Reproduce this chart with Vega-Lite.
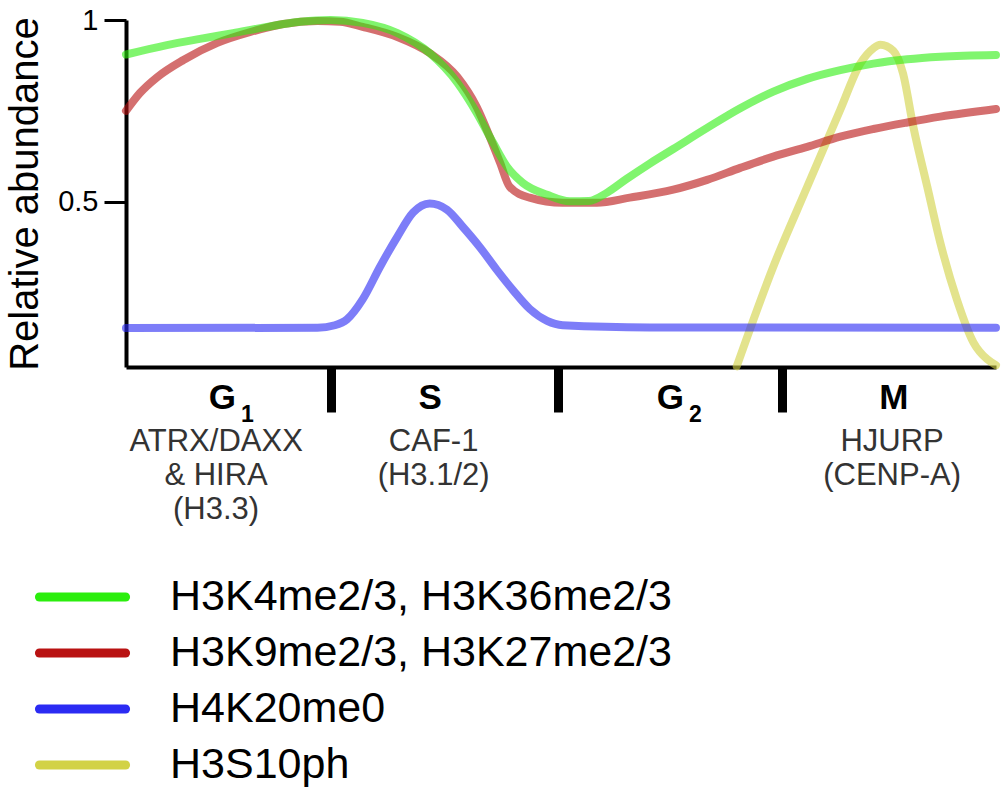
{
  "$schema": "https://vega.github.io/schema/vega-lite/v6.json",
  "width": 870,
  "height": 347,
  "autosize": "none",
  "padding": {"left": 126, "top": 20, "right": 10, "bottom": 421},
  "config": {"view": {"stroke": null}, "font": "Liberation Sans"},
  "data": {
    "values": [
      {"series": "H3S10ph", "t": 70.2, "v": 0.047},
      {"series": "H3S10ph", "t": 74.4, "v": 0.321},
      {"series": "H3S10ph", "t": 78.3, "v": 0.541},
      {"series": "H3S10ph", "t": 82.1, "v": 0.753},
      {"series": "H3S10ph", "t": 84.4, "v": 0.88},
      {"series": "H3S10ph", "t": 85.9, "v": 0.922},
      {"series": "H3S10ph", "t": 86.7, "v": 0.932},
      {"series": "H3S10ph", "t": 88.2, "v": 0.915},
      {"series": "H3S10ph", "t": 89.3, "v": 0.854},
      {"series": "H3S10ph", "t": 90.5, "v": 0.706},
      {"series": "H3S10ph", "t": 92.1, "v": 0.541},
      {"series": "H3S10ph", "t": 93.6, "v": 0.387},
      {"series": "H3S10ph", "t": 95.5, "v": 0.231},
      {"series": "H3S10ph", "t": 97.4, "v": 0.113},
      {"series": "H3S10ph", "t": 99.0, "v": 0.066},
      {"series": "H3S10ph", "t": 100, "v": 0.05},

      {"series": "H3K9me2/3, H3K27me2/3", "t": 0, "v": 0.75},
      {"series": "H3K9me2/3, H3K27me2/3", "t": 1.6, "v": 0.799},
      {"series": "H3K9me2/3, H3K27me2/3", "t": 3.6, "v": 0.843},
      {"series": "H3K9me2/3, H3K27me2/3", "t": 6.6, "v": 0.89},
      {"series": "H3K9me2/3, H3K27me2/3", "t": 10.5, "v": 0.937},
      {"series": "H3K9me2/3, H3K27me2/3", "t": 14.3, "v": 0.967},
      {"series": "H3K9me2/3, H3K27me2/3", "t": 18.1, "v": 0.989},
      {"series": "H3K9me2/3, H3K27me2/3", "t": 22.0, "v": 0.997},
      {"series": "H3K9me2/3, H3K27me2/3", "t": 24.6, "v": 0.995},
      {"series": "H3K9me2/3, H3K27me2/3", "t": 27.2, "v": 0.981},
      {"series": "H3K9me2/3, H3K27me2/3", "t": 31.2, "v": 0.953},
      {"series": "H3K9me2/3, H3K27me2/3", "t": 34.9, "v": 0.909},
      {"series": "H3K9me2/3, H3K27me2/3", "t": 38.1, "v": 0.843},
      {"series": "H3K9me2/3, H3K27me2/3", "t": 40.3, "v": 0.761},
      {"series": "H3K9me2/3, H3K27me2/3", "t": 41.8, "v": 0.679},
      {"series": "H3K9me2/3, H3K27me2/3", "t": 43.0, "v": 0.607},
      {"series": "H3K9me2/3, H3K27me2/3", "t": 44.1, "v": 0.541},
      {"series": "H3K9me2/3, H3K27me2/3", "t": 46.4, "v": 0.511},
      {"series": "H3K9me2/3, H3K27me2/3", "t": 50.2, "v": 0.497},
      {"series": "H3K9me2/3, H3K27me2/3", "t": 54.1, "v": 0.497},
      {"series": "H3K9me2/3, H3K27me2/3", "t": 57.9, "v": 0.511},
      {"series": "H3K9me2/3, H3K27me2/3", "t": 62.9, "v": 0.533},
      {"series": "H3K9me2/3, H3K27me2/3", "t": 66.8, "v": 0.56},
      {"series": "H3K9me2/3, H3K27me2/3", "t": 70.6, "v": 0.593},
      {"series": "H3K9me2/3, H3K27me2/3", "t": 74.4, "v": 0.624},
      {"series": "H3K9me2/3, H3K27me2/3", "t": 78.3, "v": 0.651},
      {"series": "H3K9me2/3, H3K27me2/3", "t": 82.1, "v": 0.679},
      {"series": "H3K9me2/3, H3K27me2/3", "t": 85.9, "v": 0.7},
      {"series": "H3K9me2/3, H3K27me2/3", "t": 89.8, "v": 0.718},
      {"series": "H3K9me2/3, H3K27me2/3", "t": 93.6, "v": 0.734},
      {"series": "H3K9me2/3, H3K27me2/3", "t": 100, "v": 0.755},

      {"series": "H3K4me2/3, H3K36me2/3", "t": 0, "v": 0.905},
      {"series": "H3K4me2/3, H3K36me2/3", "t": 4.7, "v": 0.931},
      {"series": "H3K4me2/3, H3K36me2/3", "t": 8.5, "v": 0.948},
      {"series": "H3K4me2/3, H3K36me2/3", "t": 12.3, "v": 0.964},
      {"series": "H3K4me2/3, H3K36me2/3", "t": 16.2, "v": 0.981},
      {"series": "H3K4me2/3, H3K36me2/3", "t": 20.0, "v": 0.995},
      {"series": "H3K4me2/3, H3K36me2/3", "t": 23.5, "v": 1.0},
      {"series": "H3K4me2/3, H3K36me2/3", "t": 27.2, "v": 0.992},
      {"series": "H3K4me2/3, H3K36me2/3", "t": 31.2, "v": 0.964},
      {"series": "H3K4me2/3, H3K36me2/3", "t": 34.9, "v": 0.909},
      {"series": "H3K4me2/3, H3K36me2/3", "t": 38.1, "v": 0.827},
      {"series": "H3K4me2/3, H3K36me2/3", "t": 40.3, "v": 0.745},
      {"series": "H3K4me2/3, H3K36me2/3", "t": 42.2, "v": 0.662},
      {"series": "H3K4me2/3, H3K36me2/3", "t": 43.8, "v": 0.596},
      {"series": "H3K4me2/3, H3K36me2/3", "t": 45.6, "v": 0.552},
      {"series": "H3K4me2/3, H3K36me2/3", "t": 48.4, "v": 0.519},
      {"series": "H3K4me2/3, H3K36me2/3", "t": 51.0, "v": 0.501},
      {"series": "H3K4me2/3, H3K36me2/3", "t": 53.2, "v": 0.502},
      {"series": "H3K4me2/3, H3K36me2/3", "t": 55.3, "v": 0.525},
      {"series": "H3K4me2/3, H3K36me2/3", "t": 57.5, "v": 0.562},
      {"series": "H3K4me2/3, H3K36me2/3", "t": 60.2, "v": 0.605},
      {"series": "H3K4me2/3, H3K36me2/3", "t": 62.9, "v": 0.645},
      {"series": "H3K4me2/3, H3K36me2/3", "t": 66.8, "v": 0.703},
      {"series": "H3K4me2/3, H3K36me2/3", "t": 70.6, "v": 0.757},
      {"series": "H3K4me2/3, H3K36me2/3", "t": 74.4, "v": 0.803},
      {"series": "H3K4me2/3, H3K36me2/3", "t": 78.3, "v": 0.838},
      {"series": "H3K4me2/3, H3K36me2/3", "t": 82.1, "v": 0.862},
      {"series": "H3K4me2/3, H3K36me2/3", "t": 85.9, "v": 0.88},
      {"series": "H3K4me2/3, H3K36me2/3", "t": 89.8, "v": 0.892},
      {"series": "H3K4me2/3, H3K36me2/3", "t": 93.6, "v": 0.899},
      {"series": "H3K4me2/3, H3K36me2/3", "t": 100, "v": 0.904},

      {"series": "H4K20me0", "t": 0, "v": 0.152},
      {"series": "H4K20me0", "t": 22.0, "v": 0.153},
      {"series": "H4K20me0", "t": 24.0, "v": 0.16},
      {"series": "H4K20me0", "t": 25.4, "v": 0.176},
      {"series": "H4K20me0", "t": 27.2, "v": 0.231},
      {"series": "H4K20me0", "t": 29.2, "v": 0.321},
      {"series": "H4K20me0", "t": 31.2, "v": 0.404},
      {"series": "H4K20me0", "t": 33.0, "v": 0.47},
      {"series": "H4K20me0", "t": 34.9, "v": 0.495},
      {"series": "H4K20me0", "t": 36.9, "v": 0.478},
      {"series": "H4K20me0", "t": 38.7, "v": 0.431},
      {"series": "H4K20me0", "t": 40.7, "v": 0.374},
      {"series": "H4K20me0", "t": 42.6, "v": 0.313},
      {"series": "H4K20me0", "t": 44.5, "v": 0.256},
      {"series": "H4K20me0", "t": 46.4, "v": 0.205},
      {"series": "H4K20me0", "t": 48.4, "v": 0.172},
      {"series": "H4K20me0", "t": 50.2, "v": 0.16},
      {"series": "H4K20me0", "t": 60.2, "v": 0.154},
      {"series": "H4K20me0", "t": 100, "v": 0.153}
    ]
  },
  "layer": [
    {
      "mark": {"type": "line", "interpolate": "monotone", "strokeWidth": 8, "strokeCap": "round"},
      "encoding": {
        "x": {
          "field": "t", "type": "quantitative",
          "scale": {"domain": [0, 100], "nice": false},
          "axis": {
            "orient": "bottom", "title": null, "grid": false, "labels": false,
            "values": [23.56, 49.66, 75.4],
            "domainColor": "black", "domainWidth": 4,
            "tickColor": "black", "tickWidth": 9, "tickSize": 45
          }
        },
        "y": {
          "field": "v", "type": "quantitative",
          "scale": {"domain": [0.045, 1], "nice": false, "zero": false},
          "axis": {
            "title": "Relative abundance", "titleFontSize": 40, "titleFontWeight": "normal",
            "titleColor": "black", "titlePadding": 12,
            "grid": false, "values": [0.5, 1], "format": "~g",
            "labelFontSize": 29, "labelColor": "black", "labelPadding": 6,
            "domainColor": "black", "domainWidth": 4,
            "tickColor": "black", "tickWidth": 3, "tickSize": 22
          }
        },
        "strokeOpacity": {
          "field": "series", "type": "nominal", "legend": null,
          "scale": {
            "domain": ["H3K4me2/3, H3K36me2/3", "H3K9me2/3, H3K27me2/3", "H4K20me0", "H3S10ph"],
            "range": [0.6, 0.62, 0.6, 0.85]
          }
        },
        "stroke": {
          "field": "series", "type": "nominal",
          "scale": {
            "domain": ["H3K4me2/3, H3K36me2/3", "H3K9me2/3, H3K27me2/3", "H4K20me0", "H3S10ph"],
            "range": ["#2bee0d", "#b91212", "#2b2bf3", "#d2d246"]
          },
          "legend": {
            "orient": "none", "legendX": -77.5, "legendY": 543, "padding": 0,
            "title": null, "symbolType": "M-1.46,0H1.46", "symbolSize": 3481,
            "symbolStrokeWidth": 9, "symbolOpacity": 1,
            "labelFontSize": 43, "labelColor": "black", "labelOffset": 53.5,
            "labelLimit": 0, "rowPadding": 0,
            "encode": {
              "symbols": {
                "update": {
                  "strokeCap": {"value": "round"},
                  "strokeOpacity": {"value": 1}
                }
              }
            }
          }
        }
      }
    },
    {
      "mark": {"type": "line", "opacity": 0},
      "encoding": {
        "x": {
          "field": "t", "type": "quantitative",
          "scale": {"domain": [0, 100], "nice": false},
          "axis": {
            "orient": "bottom", "title": null, "grid": false, "domain": false, "ticks": false,
            "values": [11.03, 34.9, 62.5, 88.2],
            "labelExpr": "datum.value < 20 ? 'G' : datum.value < 50 ? 'S' : datum.value < 75 ? 'G' : 'M'",
            "labelFontSize": 35, "labelFontWeight": "bold", "labelColor": "black",
            "labelBaseline": "top", "labelPadding": 13
          }
        },
        "y": {
          "field": "v", "type": "quantitative",
          "scale": {"domain": [0.045, 1], "nice": false, "zero": false},
          "axis": {
            "title": "Relative abundance", "titleFontSize": 40, "titleFontWeight": "normal",
            "titleColor": "black", "titlePadding": 12,
            "grid": false, "values": [0.5, 1], "format": "~g",
            "labelFontSize": 29, "labelColor": "black", "labelPadding": 6,
            "domainColor": "black", "domainWidth": 4,
            "tickColor": "black", "tickWidth": 3, "tickSize": 22
          }
        },
        "detail": {"field": "series", "type": "nominal"}
      }
    },
    {
      "mark": {"type": "line", "opacity": 0},
      "encoding": {
        "x": {
          "field": "t", "type": "quantitative",
          "scale": {"domain": [0, 100], "nice": false},
          "axis": {
            "orient": "bottom", "title": null, "grid": false, "domain": false, "ticks": false,
            "values": [13.9, 65.4],
            "labelExpr": "datum.value < 40 ? '1' : '2'",
            "labelFontSize": 23, "labelFontWeight": "bold", "labelColor": "black",
            "labelBaseline": "top", "labelPadding": 36
          }
        },
        "y": {
          "field": "v", "type": "quantitative",
          "scale": {"domain": [0.045, 1], "nice": false, "zero": false},
          "axis": {
            "title": "Relative abundance", "titleFontSize": 40, "titleFontWeight": "normal",
            "titleColor": "black", "titlePadding": 12,
            "grid": false, "values": [0.5, 1], "format": "~g",
            "labelFontSize": 29, "labelColor": "black", "labelPadding": 6,
            "domainColor": "black", "domainWidth": 4,
            "tickColor": "black", "tickWidth": 3, "tickSize": 22
          }
        },
        "detail": {"field": "series", "type": "nominal"}
      }
    },
    {
      "mark": {"type": "line", "opacity": 0},
      "encoding": {
        "x": {
          "field": "t", "type": "quantitative",
          "scale": {"domain": [0, 100], "nice": false},
          "axis": {
            "orient": "bottom", "title": null, "grid": false, "domain": false, "ticks": false,
            "values": [10.3, 35.3, 88.0],
            "labelExpr": "datum.value < 20 ? ['ATRX/DAXX', '& HIRA', '(H3.3)'] : datum.value < 50 ? ['CAF-1', '(H3.1/2)'] : ['HJURP', '(CENP-A)']",
            "labelFontSize": 31, "labelColor": "#333333", "labelLineHeight": 34,
            "labelBaseline": "top", "labelPadding": 59
          }
        },
        "y": {
          "field": "v", "type": "quantitative",
          "scale": {"domain": [0.045, 1], "nice": false, "zero": false},
          "axis": {
            "title": "Relative abundance", "titleFontSize": 40, "titleFontWeight": "normal",
            "titleColor": "black", "titlePadding": 12,
            "grid": false, "values": [0.5, 1], "format": "~g",
            "labelFontSize": 29, "labelColor": "black", "labelPadding": 6,
            "domainColor": "black", "domainWidth": 4,
            "tickColor": "black", "tickWidth": 3, "tickSize": 22
          }
        },
        "detail": {"field": "series", "type": "nominal"}
      }
    }
  ],
  "resolve": {"axis": {"x": "independent"}}
}
